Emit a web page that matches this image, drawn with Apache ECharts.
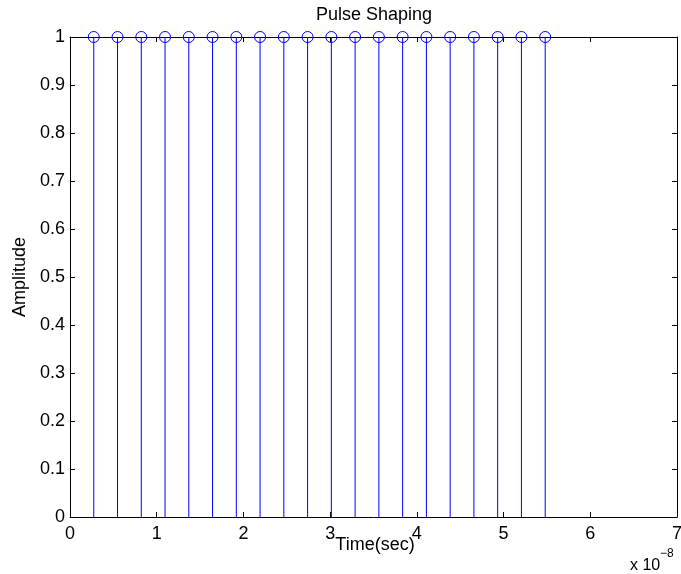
<!DOCTYPE html>
<html>
<head>
<meta charset="utf-8">
<title>Pulse Shaping</title>
<script src="https://cdn.jsdelivr.net/npm/echarts@6/dist/echarts.min.js"></script>
<style>
  html, body { margin: 0; padding: 0; background: #ffffff; }
  #chart { width: 681px; height: 574px; }
</style>
</head>
<body>
<div id="chart"></div>
<script>
// Sample instants, in units of 1e-8 s (axis carries the "x 10^-8" multiplier)
const sampleTimes = [0.274, 0.548, 0.822, 1.096, 1.370, 1.644, 1.918, 2.192, 2.466, 2.740,
                     3.014, 3.288, 3.562, 3.836, 4.110, 4.384, 4.658, 4.932, 5.206, 5.480];
// Pulse amplitudes at each instant
const amplitudes = [1, 1, 1, 1, 1, 1, 1, 1, 1, 1,
                    1, 1, 1, 1, 1, 1, 1, 1, 1, 1];
// Tick labels
const xTickLabels = ['0', '1', '2', '3', '4', '5', '6', '7'];
const yTickLabels = ['0', '0.1', '0.2', '0.3', '0.4', '0.5', '0.6', '0.7', '0.8', '0.9', '1'];

const FONT = 'Liberation Sans, Arial, Helvetica, sans-serif';
const STEM = '#0000ff';

const stemData = sampleTimes.map((t, i) => [t, amplitudes[i]]);

const chart = echarts.init(document.getElementById('chart'), null, { renderer: 'canvas' });

// Box-style axes: line on every side, short ticks pointing into the plot
function boxAxis(extra) {
  return Object.assign({
    axisLine: { show: true, onZero: false, lineStyle: { color: '#000', width: 1 } },
    axisTick: { show: true, inside: true, length: 5, lineStyle: { color: '#000', width: 1 } },
    splitLine: { show: false },
    minorTick: { show: false }
  }, extra);
}

chart.setOption({
  animation: false,
  backgroundColor: '#ffffff',
  grid: { left: 70, right: 4, top: 37, bottom: 57, containLabel: false, outerBoundsMode: 'none' },
  xAxis: [
    boxAxis({
      type: 'value', min: 0, max: 7, interval: 1, position: 'bottom',
      axisLabel: {
        color: '#000', fontSize: 18, fontFamily: FONT, margin: 8,
        formatter: v => xTickLabels[Math.round(v)]
      }
    }),
    boxAxis({
      type: 'value', min: 0, max: 7, interval: 1, position: 'top',
      axisLabel: { show: false }
    })
  ],
  yAxis: [
    boxAxis({
      type: 'value', min: 0, max: 1, interval: 0.1, position: 'left',
      axisLabel: {
        color: '#000', fontSize: 18, fontFamily: FONT, margin: 5,
        formatter: v => yTickLabels[Math.round(v * 10)]
      }
    }),
    boxAxis({
      type: 'value', min: 0, max: 1, interval: 0.1, position: 'right',
      axisLabel: { show: false }
    })
  ],
  series: [{
    type: 'custom',
    xAxisIndex: 0,
    yAxisIndex: 0,
    data: stemData,
    clip: false,
    z: 5,
    renderItem: function (params, api) {
      const x = api.value(0);
      const y = api.value(1);
      const base = api.coord([x, 0]);
      const tip = api.coord([x, y]);
      return {
        type: 'group',
        children: [
          {
            type: 'line',
            shape: { x1: base[0], y1: base[1], x2: tip[0], y2: tip[1] },
            style: { stroke: STEM, lineWidth: 1 }
          },
          {
            type: 'circle',
            shape: { cx: tip[0], cy: tip[1], r: 5.5 },
            style: { fill: null, stroke: STEM, lineWidth: 1 }
          }
        ]
      };
    }
  }],
  graphic: [
    {
      type: 'text', x: 374, y: 15,
      style: { text: 'Pulse Shaping', font: '18px ' + FONT, fill: '#000',
               textAlign: 'center', textVerticalAlign: 'middle' }
    },
    {
      type: 'text', x: 375, y: 545,
      style: { text: 'Time(sec)', font: '18px ' + FONT, fill: '#000',
               textAlign: 'center', textVerticalAlign: 'middle' }
    },
    {
      type: 'text', x: 20, y: 277, rotation: Math.PI / 2,
      style: { text: 'Amplitude', font: '18px ' + FONT, fill: '#000',
               textAlign: 'center', textVerticalAlign: 'middle' }
    },
    {
      type: 'text', x: 630, y: 566,
      style: { text: 'x 10', font: '16px ' + FONT, fill: '#000',
               textAlign: 'left', textVerticalAlign: 'middle' }
    },
    {
      type: 'text', x: 660, y: 554,
      style: { text: '\u22128', font: '12px ' + FONT, fill: '#000',
               textAlign: 'left', textVerticalAlign: 'middle' }
    }
  ]
});
</script>
</body>
</html>
